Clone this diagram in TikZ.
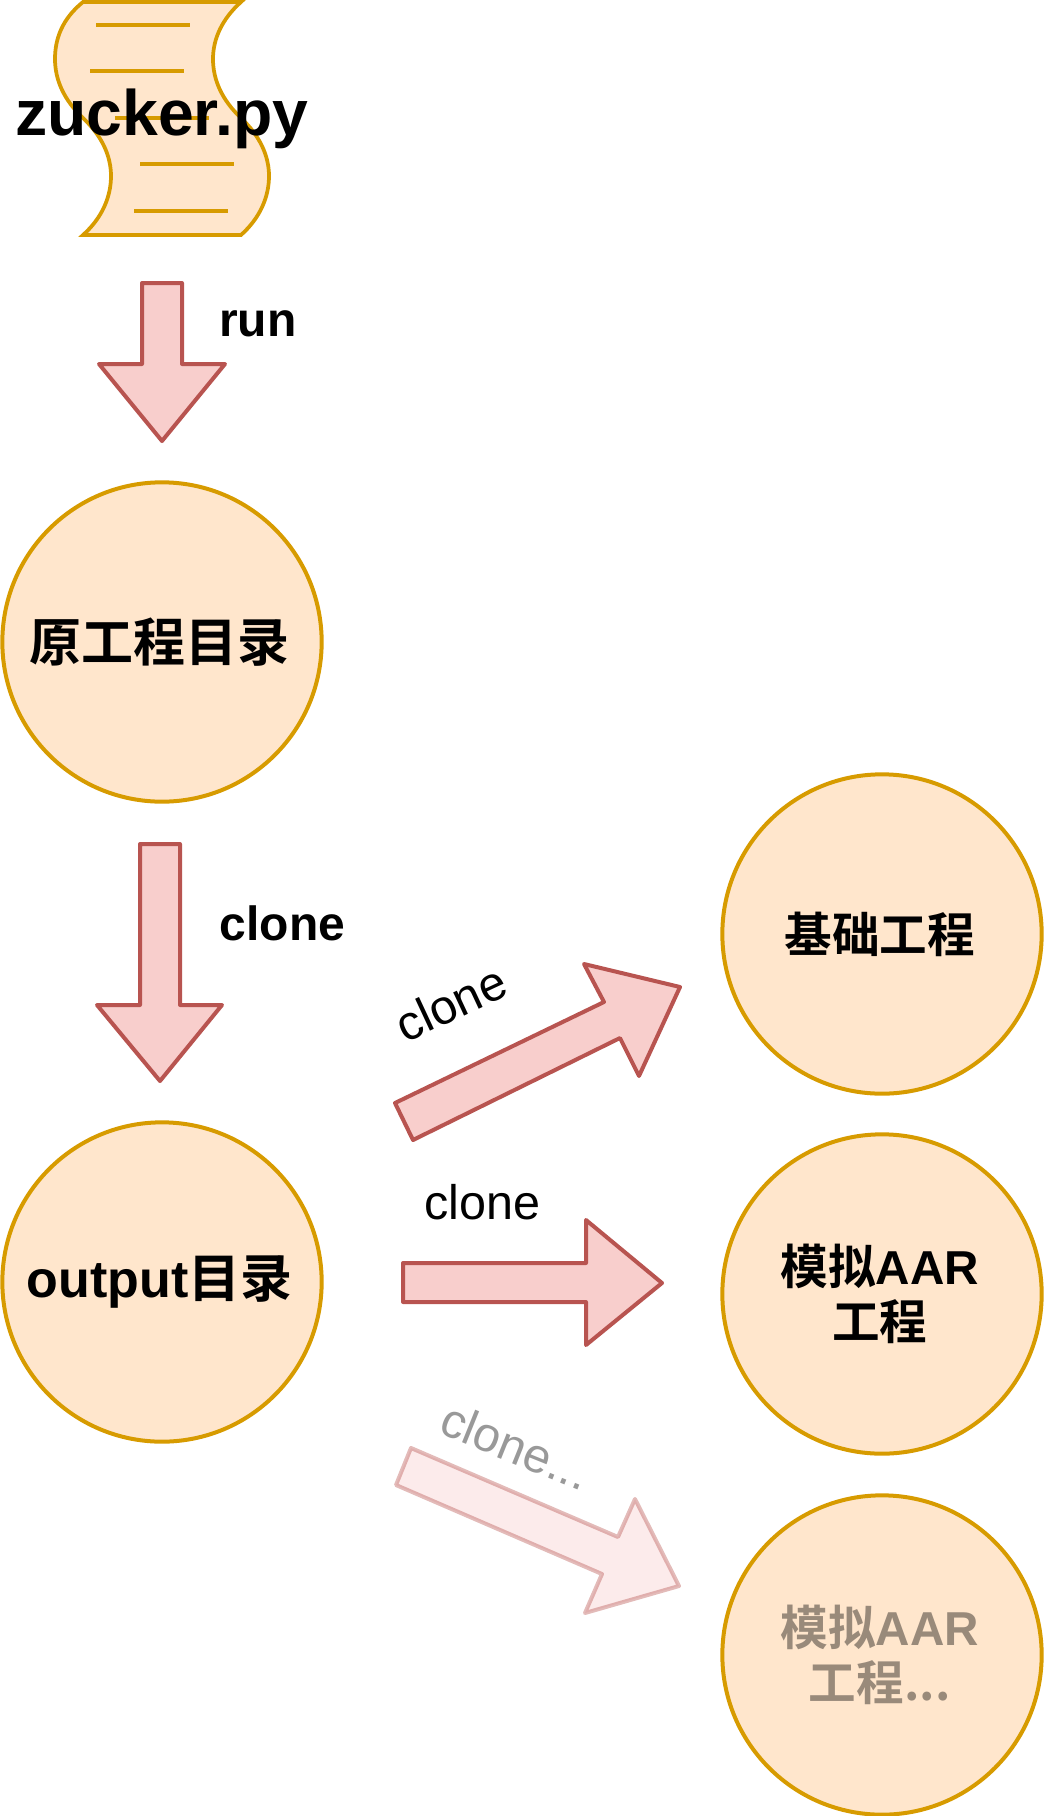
\documentclass[tikz,border=0pt]{standalone}
\usepackage{fontspec}
\setmainfont{Liberation Sans}
\newfontfamily\cjk{Noto Sans CJK SC}[BoldFont={* Bold}]
\newcommand{\fpx}[1]{\fontsize{\dimexpr#1pt*3/4\relax}{\dimexpr#1pt*87/100\relax}\selectfont}
\newcommand{\nudge}{\kern3.5pt}
\definecolor{orfill}{HTML}{FFE6CC}
\definecolor{orline}{HTML}{D79B00}
\definecolor{redfill}{HTML}{F8CECC}
\definecolor{redline}{HTML}{B85450}
\tikzset{
  x=0.75pt,y=-0.75pt,
  blob/.style={circle,draw=orline,fill=orfill,line width=3pt,minimum size=239.5pt,inner sep=0pt,outer sep=0pt,align=center,font=\fpx{47.6}\bfseries\cjk},
  bigblob/.style={blob,font=\fpx{52}\bfseries\cjk},
  bigarrow/.style={draw=redline,fill=redfill,line width=3pt,line join=round},
  docshape/.style={draw=orline,fill=orfill,line width=2.8pt,line join=miter},
  docline/.style={draw=orline,line width=2.8pt},
  boldlabel/.style={anchor=base west,inner sep=0pt,font=\fpx{48}\bfseries},
  plainlabel/.style={inner sep=0pt,font=\fpx{48.5}},
  faded/.style={opacity=0.4},
}
\begin{document}
\begin{tikzpicture}
\useasboundingbox (0,0) rectangle (1044,1816);
% document
\draw[docshape] (83,2) .. controls (62,19) and (55,39) .. (55,59)
  .. controls (55,80) and (64,100) .. (83,118)
  .. controls (102,136) and (111,156) .. (111,176)
  .. controls (111,197) and (102,218) .. (83,235)
  -- (241,235) .. controls (260,218) and (269,197) .. (269,176)
  .. controls (269,156) and (260,136) .. (241,118)
  .. controls (222,100) and (213,80) .. (213,59)
  .. controls (213,39) and (222,19) .. (241,2) -- cycle;
\draw[docline] (96,25) -- (190,25);
\draw[docline] (90,71) -- (184,71);
\draw[docline] (115,118) -- (209,118);
\draw[docline] (140,164) -- (234,164);
\draw[docline] (134,211) -- (228,211);
\node[anchor=base west,inner sep=0pt,font=\fpx{64.3}\bfseries] (script) at (15,136) {zucker.py};
% vertical arrows
\draw[bigarrow] (142,283) -- (182,283) -- (182,364) -- (225,364) -- (162,441) -- (99,364) -- (142,364) -- cycle;
\node[boldlabel] (run) at (219,336) {run};
\draw[bigarrow] (140,844) -- (180,844) -- (180,1005) -- (222,1005) -- (160,1081) -- (97,1005) -- (140,1005) -- cycle;
\node[boldlabel] (clonea) at (219.5,940) {clone};
% circles
\node[bigblob] (src) at (162,642) {原工程目录\nudge};
\node[bigblob] (out) at (162,1282) {{\rmfamily output}目录\nudge};
\node[blob] (base) at (882,934) {基础工程\nudge};
\node[blob] (aar) at (882,1294) {模拟{\rmfamily AAR}\nudge\\工程\nudge};
\node[blob,text opacity=0.4] (aarmore) at (882,1655) {模拟{\rmfamily AAR}\nudge\\工程...\nudge};
% diagonal arrows
\draw[bigarrow] (395,1103) -- (604,1002) -- (584,964) -- (680,987) -- (639,1076) -- (620,1038) -- (413,1140) -- cycle;
\node[plainlabel,rotate=25] (cloneb) at (451,1003) {clone};
\draw[bigarrow] (403,1263) -- (586,1263) -- (586,1220) -- (662,1283) -- (586,1345) -- (586,1302) -- (403,1302) -- cycle;
\node[plainlabel,anchor=base west] (clonec) at (424,1219) {clone};
\draw[bigarrow,faded] (411,1448) -- (618,1537) -- (635,1499) -- (679,1586) -- (585,1613) -- (602,1574) -- (396,1485) -- cycle;
\node[plainlabel,faded,rotate=-22] (cloned) at (516,1446) {clone...};
\end{tikzpicture}
\end{document}
